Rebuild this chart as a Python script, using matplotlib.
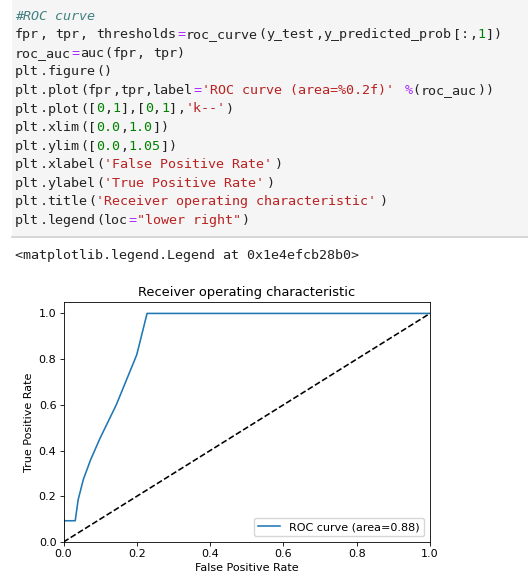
import re
import matplotlib.pyplot as plt

# ROC curve values
fpr = [0.0, 0.0, 0.032, 0.04, 0.054, 0.074, 0.1, 0.144, 0.195, 0.2, 0.228, 1.0]
tpr = [0.0, 0.093, 0.093, 0.185, 0.273, 0.36, 0.455, 0.6, 0.8, 0.82, 1.0, 1.0]
roc_auc = 0.88

code_lines = [
    "#ROC curve",
    "fpr, tpr, thresholds=roc_curve(y_test,y_predicted_prob[:,1])",
    "roc_auc=auc(fpr, tpr)",
    "plt.figure()",
    "plt.plot(fpr,tpr,label='ROC curve (area=%0.2f)' %(roc_auc))",
    "plt.plot([0,1],[0,1],'k--')",
    "plt.xlim([0.0,1.0])",
    "plt.ylim([0.0,1.05])",
    "plt.xlabel('False Positive Rate')",
    "plt.ylabel('True Positive Rate')",
    "plt.title('Receiver operating characteristic')",
    "plt.legend(loc=\"lower right\")",
]
output_line = "<matplotlib.legend.Legend at 0x1e4efcb28b0>"

W, H = 528, 575
fig = plt.figure(figsize=(W / 100, H / 100), dpi=100)

# code cell background
fig.patches.append(plt.Rectangle((12 / W, 1 - 236 / H), 1, 236 / H, transform=fig.transFigure,
                                 facecolor='#f5f5f5', edgecolor='none', zorder=0))
fig.add_artist(plt.Line2D([12 / W, 1], [1 - 236.5 / H] * 2, transform=fig.transFigure,
                          color='#cfcfcf', lw=1.2))

mono = 'DejaVu Sans Mono'
fs_code = 9.6
cw = 8.11  # px per char
x0 = 15

tok_re = re.compile(r"('[^']*'|\"[^\"]*\"|\d+(?:\.\d+)?|[=%]|[A-Za-z_]\w*|.)")


def put(txt, col, px, py, style='normal'):
    fig.text(px / W, 1 - py / H, txt, color=col, fontsize=fs_code, family=mono,
             style=style, va='center', ha='left')


for i, line in enumerate(code_lines):
    y = 16 + i * 18.6
    if line.startswith('#'):
        put(line, '#408080', x0, y, 'italic')
        continue
    for m in tok_re.finditer(line):
        t = m.group(0)
        if t[0] in '\'"':
            col = '#BA2121'
        elif t[0].isdigit():
            col = '#008000'
        elif t in '=%':
            col = '#AA22FF'
        else:
            col = '#222222'
        put(t, col, x0 + m.start() * cw, y)

put(output_line, '#222222', x0, 255)

fsz = 8.0
ax = fig.add_axes([63.5 / W, 33 / H, 366.5 / W, 240 / H])
ax.plot(fpr, tpr, color='#1f77b4', lw=1.15, label='ROC curve (area=%0.2f)' % roc_auc)
ax.plot([0, 1], [0, 1], 'k--', lw=1.15)
ax.set_xlim([0.0, 1.0])
ax.set_ylim([0.0, 1.05])
ax.set_xlabel('False Positive Rate', fontsize=fsz, labelpad=2.5)
ax.set_ylabel('True Positive Rate', fontsize=fsz, labelpad=3)
ax.set_title('Receiver operating characteristic', fontsize=9.4, pad=4.5)
ax.tick_params(labelsize=fsz, length=2.6, width=0.6, pad=2.5)
for s in ax.spines.values():
    s.set_linewidth(0.6)
ax.legend(loc='lower right', fontsize=fsz)

fig.savefig('out.png', dpi=100)
